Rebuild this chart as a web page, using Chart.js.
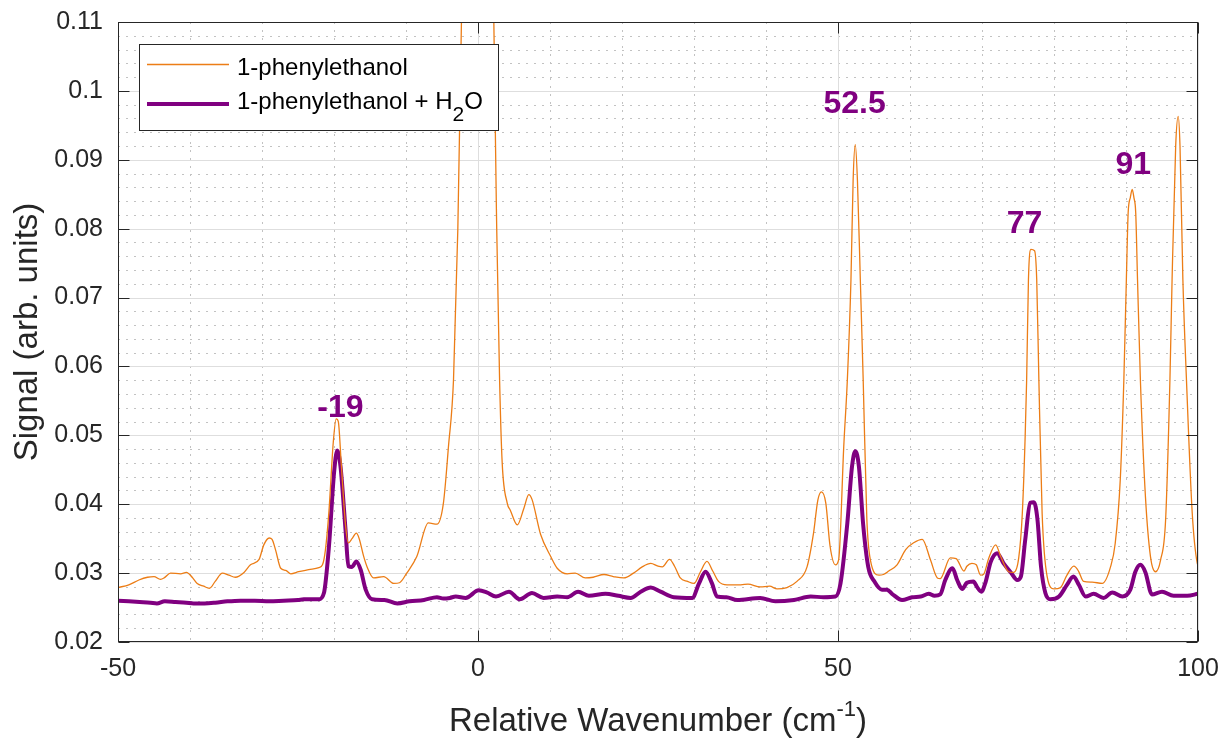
<!DOCTYPE html>
<html><head><meta charset="utf-8">
<script src="https://cdn.jsdelivr.net/npm/chart.js@4.4.1/dist/chart.umd.min.js"></script>
<style>html,body{margin:0;padding:0;background:#fff;}canvas{display:block;}</style>
</head><body>
<canvas id="c" width="1223" height="740"></canvas>
<script>
// ---------- data ----------
const xTicks = [-50, 0, 50, 100];
const xTickLabels = ['-50', '0', '50', '100'];
const yTicks = [0.02, 0.03, 0.04, 0.05, 0.06, 0.07, 0.08, 0.09, 0.10, 0.11];
const yTickLabels = ['0.02', '0.03', '0.04', '0.05', '0.06', '0.07', '0.08', '0.09', '0.1', '0.11'];
const seriesNames = ['1-phenylethanol', '1-phenylethanol + H2O'];

const wnPure = [-50,-48.5,-47.1,-45.9,-45,-44.1,-43.6,-42.7,-41.3,-40.5,-39.7,-39,-38.1,-37.3,-36.5,-35.5,-34.6,-33.7,-32.5,-31.6,-30.4,-29.75,-29,-28.6,-28.1,-27.4,-26.7,-26,-24.9,-23.5,-22.1,-21.6,-21.2,-20.7,-20.1,-19.7,-19.4,-19,-18.4,-18,-17.5,-16.9,-16.5,-15.9,-15.4,-14.5,-13.1,-11.7,-10.9,-9.9,-8.5,-6.9,-5.7,-4.8,-4.1,-3.4,-2.8,-2.3,-1.8,0,1.8,2.2,2.6,3,3.36,4.05,4.5,5.45,6.4,7.05,7.5,8.7,10.1,11,12.4,13.5,14.9,16,17.5,18.8,20.25,21.6,22.8,24,25,25.6,26.6,27.3,28.1,29.1,30,30.9,31.8,32.6,33.4,34.6,36.5,37.5,39.2,40.5,41.55,42.9,44.3,45.7,46.6,47.2,47.7,48.3,48.9,49.65,50.1,50.8,51.3,51.8,52.1,52.4,52.7,53.1,53.5,54,54.5,55.7,56.3,57.05,58.2,59.4,60.5,61.7,62.85,63.8,64.2,65.6,66.4,67.5,67.9,68.6,69.2,69.8,70.2,70.95,71.9,72.6,73.7,74.4,75.1,75.6,76,76.2,76.45,76.8,77.3,77.6,77.9,78.35,79.05,80,80.9,81.8,82.75,83.4,84.1,85.3,86.7,87.85,88.5,89.2,89.7,90.05,90.3,90.6,90.86,91.1,91.35,91.6,92,92.7,93.4,94.1,94.8,95.5,96.1,96.4,96.9,97.25,97.5,97.9,98.4,99.2,99.9,100];
const sigPure = [0.0279,0.0283,0.0290,0.0294,0.0295,0.0291,0.0293,0.0300,0.0299,0.0301,0.0294,0.0285,0.0281,0.0278,0.0288,0.0300,0.0297,0.0294,0.0301,0.0312,0.0320,0.0341,0.0351,0.0349,0.0333,0.0307,0.0304,0.0299,0.0302,0.0305,0.0308,0.0312,0.0333,0.0390,0.0490,0.0524,0.0520,0.0460,0.0370,0.0344,0.0350,0.0358,0.0350,0.0325,0.0309,0.0293,0.0295,0.0285,0.0286,0.0300,0.0324,0.0373,0.0371,0.0402,0.0484,0.0581,0.080,0.110,0.160,0.250,0.160,0.110,0.080,0.058,0.046,0.0402,0.0391,0.0370,0.0395,0.0414,0.0407,0.0356,0.0324,0.0307,0.0299,0.0300,0.0293,0.0294,0.0298,0.0295,0.0293,0.0300,0.0309,0.0314,0.0310,0.0309,0.0320,0.0310,0.0293,0.0288,0.0285,0.0302,0.0317,0.0303,0.0288,0.0283,0.0283,0.0284,0.0280,0.0281,0.0277,0.0279,0.0288,0.0309,0.0358,0.0406,0.0418,0.0402,0.0339,0.0312,0.0320,0.0484,0.0581,0.0726,0.0870,0.0922,0.0870,0.0726,0.0580,0.0380,0.0319,0.0297,0.0298,0.0303,0.0312,0.0334,0.0344,0.0349,0.0319,0.0293,0.0292,0.0322,0.0321,0.0303,0.0310,0.0314,0.0312,0.0297,0.0298,0.0322,0.0341,0.0324,0.0302,0.0301,0.0322,0.0387,0.0500,0.0580,0.0726,0.0770,0.0768,0.0726,0.0580,0.0387,0.0295,0.0277,0.0279,0.0297,0.0310,0.0303,0.0288,0.0287,0.0285,0.0309,0.0343,0.0435,0.0580,0.0726,0.0823,0.0845,0.0857,0.0845,0.0823,0.0726,0.0580,0.0411,0.0324,0.0302,0.0319,0.0377,0.0580,0.0726,0.0920,0.0963,0.0920,0.0726,0.0580,0.0387,0.0314,0.0312];

const wnWater = [-50,-48.5,-47,-45.5,-44.6,-43.5,-42,-40.5,-39.5,-38,-36.5,-34.8,-33,-31,-29,-27,-25,-24.2,-22.1,-21.4,-20.7,-20,-19.55,-19.1,-18.4,-18,-17.5,-16.9,-16.3,-15.6,-14.7,-13,-11.2,-9.5,-7.5,-5.7,-4.8,-3.9,-3.1,-1.7,0.1,1.2,2.5,4.3,5.8,7.5,9.1,11,12.4,13.9,15.4,17.7,19.5,21.2,22.6,24,25.35,27.2,29.75,30.7,31.6,32.5,33.2,34.5,36,39.2,41.3,43.9,46.2,48,49.65,50.35,51.3,51.95,52.4,52.9,53.5,54.2,55.1,56.1,56.8,57.5,58.9,60.3,61.5,62.6,63.4,64.2,64.9,65.9,66.55,67.25,67.9,68.8,69.3,69.9,70.5,71.2,72.1,73,74,74.9,75.4,76,76.7,77.2,77.7,78.2,78.8,79.5,80.7,81.8,82.7,83.45,84.4,85.5,86.9,88.1,89.5,90.6,91.3,92,92.7,93.6,95,96.6,98.5,100];
const sigWater = [0.0260,0.0259,0.0258,0.0257,0.0256,0.0259,0.0258,0.0257,0.0256,0.0256,0.0257,0.0259,0.0260,0.0260,0.0259,0.0260,0.0261,0.0262,0.0262,0.0271,0.0339,0.0445,0.0478,0.0455,0.0363,0.0310,0.0309,0.0317,0.0305,0.0276,0.0262,0.0261,0.0256,0.0259,0.0261,0.0265,0.0263,0.0264,0.0266,0.0264,0.0275,0.0272,0.0266,0.0273,0.0262,0.0271,0.0264,0.0266,0.0265,0.0273,0.0267,0.0270,0.0267,0.0264,0.0273,0.0279,0.0273,0.0265,0.0264,0.0285,0.0302,0.0285,0.0266,0.0265,0.0261,0.0264,0.0259,0.0261,0.0266,0.0265,0.0266,0.0285,0.0373,0.0455,0.0477,0.0455,0.0370,0.0309,0.0287,0.0276,0.0276,0.0270,0.0261,0.0265,0.0266,0.0270,0.0267,0.0269,0.0290,0.0307,0.0290,0.0277,0.0286,0.0288,0.0280,0.0273,0.0287,0.0316,0.0329,0.0314,0.0301,0.0290,0.0295,0.0348,0.0402,0.0403,0.0378,0.0309,0.0271,0.0262,0.0266,0.0283,0.0295,0.0283,0.0266,0.0270,0.0264,0.0272,0.0266,0.0276,0.0302,0.0312,0.0301,0.0269,0.0273,0.0267,0.0267,0.0270];

const peakLabels = ['-19', '52.5', '77', '91'];
const peakLabelX = [-19.1, 52.3, 75.9, 91.0];
const peakLabelY = [0.0527, 0.0968, 0.0794, 0.0879];

// ---------- style ----------
const FONT = '"Liberation Sans", Arial, Helvetica, sans-serif';
const ORANGE = '#EC7D16';
const PURPLE = '#800080';
const AXIS = '#262626';

function line(ctx, x1, y1, x2, y2) { ctx.beginPath(); ctx.moveTo(x1, y1); ctx.lineTo(x2, y2); ctx.stroke(); }

const matlabPlugin = {
  id: 'matlabLook',
  beforeDatasetsDraw(chart) {
    const { ctx, chartArea: a, scales: { x, y } } = chart;
    ctx.save();
    ctx.lineWidth = 1;
    ctx.strokeStyle = '#c2c2c2';
    ctx.setLineDash([2, 6]);
    for (let v = -40; v < 100; v += 10) {
      if (v % 50 === 0) continue;
      const px = Math.round(x.getPixelForValue(v)) + 0.5;
      line(ctx, px, a.top, px, a.bottom);
    }
    for (let i = 1; i < 45; i++) {
      if (i % 5 === 0) continue;
      const py = Math.round(y.getPixelForValue(0.02 + i * 0.002)) + 0.5;
      line(ctx, a.left, py, a.right, py);
    }
    ctx.setLineDash([]);
    ctx.strokeStyle = '#dedede';
    xTicks.forEach(v => { const px = Math.round(x.getPixelForValue(v)) + 0.5; line(ctx, px, a.top, px, a.bottom); });
    yTicks.forEach(v => { const py = Math.round(y.getPixelForValue(v)) + 0.5; line(ctx, a.left, py, a.right, py); });
    ctx.restore();
  },
  afterDatasetsDraw(chart) {
    const { ctx, chartArea: a, scales: { x, y } } = chart;
    ctx.save();
    // frame + inward ticks
    ctx.strokeStyle = AXIS; ctx.lineWidth = 1;
    const L = Math.round(a.left) + 0.5, R = Math.round(a.right) - 0.5, T = Math.round(a.top) + 0.5, B = Math.round(a.bottom) - 0.5;
    ctx.strokeRect(L, T, R - L, B - T);
    const tl = 11;
    xTicks.forEach(v => { const px = Math.round(x.getPixelForValue(v)) + 0.5; line(ctx, px, B, px, B - tl); line(ctx, px, T, px, T + tl); });
    yTicks.forEach(v => { const py = Math.round(y.getPixelForValue(v)) + 0.5; line(ctx, L, py, L + tl, py); line(ctx, R, py, R - tl, py); });
    // peak labels
    ctx.fillStyle = PURPLE;
    ctx.font = 'bold 32px ' + FONT;
    ctx.textAlign = 'center'; ctx.textBaseline = 'alphabetic';
    peakLabels.forEach((t, i) => ctx.fillText(t, x.getPixelForValue(peakLabelX[i]), y.getPixelForValue(peakLabelY[i])));
    // legend
    ctx.fillStyle = '#fff';
    ctx.fillRect(139, 44, 359, 87);
    ctx.strokeStyle = AXIS; ctx.lineWidth = 1;
    ctx.strokeRect(139.5, 44.5, 359, 86);
    ctx.strokeStyle = ORANGE; ctx.lineWidth = 1.3;
    line(ctx, 147, 64.5, 229, 64.5);
    ctx.strokeStyle = PURPLE; ctx.lineWidth = 4;
    line(ctx, 147, 104, 229, 104);
    ctx.fillStyle = '#000';
    ctx.font = '24px ' + FONT;
    ctx.textAlign = 'left'; ctx.textBaseline = 'alphabetic';
    ctx.fillText(seriesNames[0], 237, 75);
    const parts = seriesNames[1].split('H2O');
    let xx = 237;
    const t1 = parts[0] + 'H';
    ctx.fillText(t1, xx, 108.5); xx += ctx.measureText(t1).width;
    ctx.font = '21px ' + FONT;
    ctx.fillText('2', xx, 121); xx += ctx.measureText('2').width;
    ctx.font = '24px ' + FONT;
    ctx.fillText('O', xx, 108.5);
    // axis titles
    ctx.fillStyle = AXIS;
    const cx = (a.left + a.right) / 2;
    const base = 'Relative Wavenumber (cm';
    ctx.font = '33px ' + FONT; const w1 = ctx.measureText(base).width;
    ctx.font = '22px ' + FONT; const w2 = ctx.measureText('-1').width;
    ctx.font = '33px ' + FONT; const w3 = ctx.measureText(')').width;
    let sx = cx - (w1 + w2 + w3) / 2;
    ctx.textAlign = 'left';
    ctx.fillText(base, sx, 731); sx += w1;
    ctx.font = '22px ' + FONT; ctx.fillText('-1', sx, 716); sx += w2;
    ctx.font = '33px ' + FONT; ctx.fillText(')', sx, 731);
    ctx.save();
    ctx.translate(28, (a.top + a.bottom) / 2);
    ctx.rotate(-Math.PI / 2);
    ctx.textAlign = 'center'; ctx.textBaseline = 'middle';
    ctx.fillText('Signal (arb. units)', 0, 0);
    ctx.restore();
    ctx.restore();
  }
};

const toPts = (xs, ys) => xs.map((v, i) => ({ x: v, y: ys[i] }));

new Chart(document.getElementById('c'), {
  type: 'scatter',
  data: {
    datasets: [
      { label: seriesNames[0], data: toPts(wnPure, sigPure), showLine: true, borderColor: ORANGE, borderWidth: 1.3, pointRadius: 0, cubicInterpolationMode: 'monotone', clip: 0 },
      { label: seriesNames[1], data: toPts(wnWater, sigWater), showLine: true, borderColor: PURPLE, borderWidth: 4, pointRadius: 0, cubicInterpolationMode: 'monotone', clip: 0 }
    ]
  },
  options: {
    responsive: false, animation: false, devicePixelRatio: 1,
    layout: { padding: { top: 22, right: 25, bottom: 0, left: 0 } },
    plugins: { legend: { display: false }, tooltip: { enabled: false } },
    scales: {
      x: {
        type: 'linear', min: -50, max: 100,
        grid: { display: false, drawTicks: false }, border: { display: false },
        afterBuildTicks: s => { s.ticks = xTicks.map(v => ({ value: v })); },
        afterFit: s => { s.height = 98; s.paddingLeft = 0; s.paddingRight = 0; },
        ticks: { callback: (v, i) => xTickLabels[i], color: AXIS, font: { family: FONT, size: 25 }, padding: 12, maxRotation: 0, autoSkip: false }
      },
      y: {
        type: 'linear', min: 0.02, max: 0.11,
        grid: { display: false, drawTicks: false }, border: { display: false },
        afterBuildTicks: s => { s.ticks = yTicks.map(v => ({ value: v })); },
        afterFit: s => { s.width = 118; s.paddingTop = 0; s.paddingBottom = 0; },
        ticks: { callback: (v, i) => yTickLabels[i], color: AXIS, font: { family: FONT, size: 25 }, padding: 15, autoSkip: false }
      }
    }
  },
  plugins: [matlabPlugin]
});
</script>
</body></html>
